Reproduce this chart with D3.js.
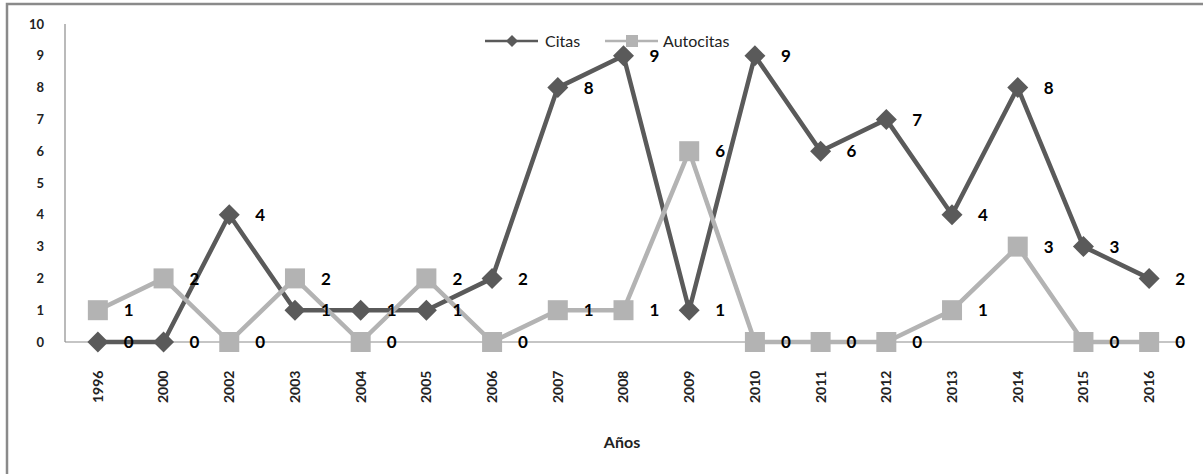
<!DOCTYPE html>
<html>
<head>
<meta charset="utf-8">
<script src="https://cdn.jsdelivr.net/npm/d3@7"></script>
<style>
  body { margin: 0; background: #fff; }
  svg { font-family: Lato, "Open Sans", sans-serif; }
</style>
</head>
<body>
<svg class="chart"></svg>
<script>
// chart data
const years = ['1996', '2000', '2002', '2003', '2004', '2005', '2006', '2007', '2008',
               '2009', '2010', '2011', '2012', '2013', '2014', '2015', '2016']
const citas = [0, 0, 4, 1, 1, 1, 2, 8, 9, 1, 9, 6, 7, 4, 8, 3, 2]
const autocitas = [1, 2, 0, 2, 0, 2, 0, 1, 1, 6, 0, 0, 0, 1, 3, 0, 0]
const yTicks = [0, 1, 2, 3, 4, 5, 6, 7, 8, 9, 10]
const seriesNames = ['Citas', 'Autocitas']

let width = 1203,
    height = 474,
    plotLeft = 65,
    plotRight = 1182,
    plotTop = 24,
    plotBottom = 342

let dark = '#5a5a5a',
    light = '#b3b3b3'

let chart = d3.select('.chart')
    .attr('width', width)
    .attr('height', height)

// outer frame
chart.append('path')
    .attr('d', `M7,${height} V4 H${width}`)
    .attr('fill', 'none')
    .attr('stroke', '#8a8a8a')
    .attr('stroke-width', 2.5)

let x = d3.scalePoint()
    .domain(years)
    .range([plotLeft, plotRight])
    .padding(0.5)

let y = d3.scaleLinear()
    .domain([0, 10])
    .range([plotBottom, plotTop])

// axes lines
chart.append('line')
    .attr('x1', plotLeft).attr('x2', plotLeft)
    .attr('y1', plotTop).attr('y2', plotBottom)
    .attr('stroke', '#8c8c8c').attr('stroke-width', 1.2)
chart.append('line')
    .attr('x1', plotLeft).attr('x2', plotRight)
    .attr('y1', plotBottom).attr('y2', plotBottom)
    .attr('stroke', '#8c8c8c').attr('stroke-width', 1.2)

// y tick labels
chart.selectAll('.ytick')
    .data(yTicks)
  .enter().append('text')
    .attr('class', 'ytick')
    .attr('x', 44)
    .attr('y', (d) => y(d))
    .attr('dy', '0.35em')
    .attr('text-anchor', 'end')
    .attr('font-size', 13)
    .attr('font-weight', 'bold')
    .attr('fill', '#222')
    .text((d) => d)

// x tick labels (rotated)
chart.selectAll('.xtick')
    .data(years)
  .enter().append('text')
    .attr('class', 'xtick')
    .attr('transform', (d) => `translate(${x(d)},${403}) rotate(-90)`)
    .attr('dy', '0.35em')
    .attr('font-size', 14)
    .attr('font-weight', 'bold')
    .attr('fill', '#222')
    .text((d) => d)

// axis title
chart.append('text')
    .attr('x', 622)
    .attr('y', 448)
    .attr('text-anchor', 'middle')
    .attr('font-size', 16)
    .attr('font-weight', 'bold')
    .attr('fill', '#222')
    .text('Años')

let line = d3.line()
    .x((d, i) => x(years[i]))
    .y((d) => y(d))

let diamond = (s) => `M0,${-s} L${s},0 L0,${s} L${-s},0 Z`

// Citas series
chart.append('path')
    .datum(citas)
    .attr('d', line)
    .attr('fill', 'none')
    .attr('stroke', dark)
    .attr('stroke-width', 4.5)
    .attr('stroke-linejoin', 'round')

chart.selectAll('.dia')
    .data(citas)
  .enter().append('path')
    .attr('class', 'dia')
    .attr('transform', (d, i) => `translate(${x(years[i])},${y(d)})`)
    .attr('d', diamond(10.5))
    .attr('fill', dark)

// Autocitas series
chart.append('path')
    .datum(autocitas)
    .attr('d', line)
    .attr('fill', 'none')
    .attr('stroke', light)
    .attr('stroke-width', 4.5)
    .attr('stroke-linejoin', 'round')

chart.selectAll('.sq')
    .data(autocitas)
  .enter().append('rect')
    .attr('class', 'sq')
    .attr('x', (d, i) => x(years[i]) - 10)
    .attr('y', (d) => y(d) - 10)
    .attr('width', 20)
    .attr('height', 20)
    .attr('fill', light)

// data labels
let addLabels = function(values, cls) {
    chart.selectAll('.' + cls)
        .data(values)
      .enter().append('text')
        .attr('class', cls)
        .attr('x', (d, i) => x(years[i]) + 26)
        .attr('y', (d) => y(d))
        .attr('dy', '0.36em')
        .attr('font-size', 17)
        .attr('font-weight', 'bold')
        .attr('fill', '#000')
        .text((d) => d)
}
addLabels(citas, 'lc')
addLabels(autocitas, 'la')

// legend
let legend = chart.append('g').attr('transform', 'translate(485,41)')
legend.append('line')
    .attr('x1', 0).attr('x2', 53)
    .attr('stroke', dark).attr('stroke-width', 2.5)
legend.append('path')
    .attr('transform', 'translate(27,0)')
    .attr('d', diamond(6))
    .attr('fill', dark)
legend.append('text')
    .attr('x', 60).attr('dy', '0.35em')
    .attr('font-size', 16).attr('fill', '#222')
    .text(seriesNames[0])
legend.append('line')
    .attr('x1', 120).attr('x2', 173)
    .attr('stroke', light).attr('stroke-width', 2.5)
legend.append('rect')
    .attr('x', 141).attr('y', -6)
    .attr('width', 12).attr('height', 12)
    .attr('fill', light)
legend.append('text')
    .attr('x', 178).attr('dy', '0.35em')
    .attr('font-size', 16).attr('fill', '#222')
    .text(seriesNames[1])
</script>
</body>
</html>
